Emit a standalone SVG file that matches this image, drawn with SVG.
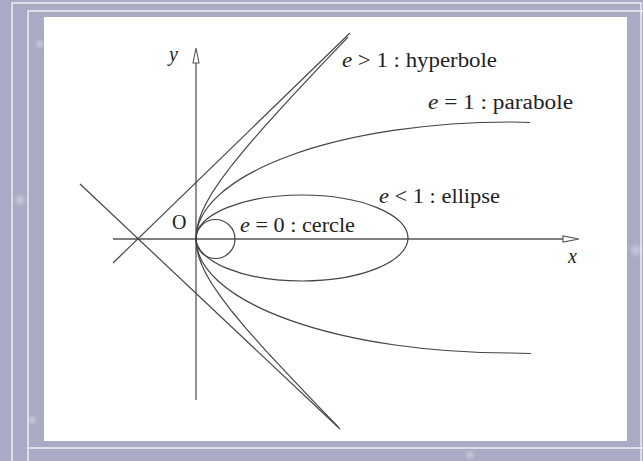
<svg xmlns="http://www.w3.org/2000/svg" width="643" height="461" viewBox="0 0 643 461">
  <defs>
    <style>
      .frame { fill: none; stroke: #eeeef4; stroke-width: 1.5; }
      .axis { fill: none; stroke: #555; stroke-width: 1.3; }
      .curve { fill: none; stroke: #444; stroke-width: 1.2; }
      .arrow { fill: #fff; stroke: #555; stroke-width: 1.1; }
      .lbl { font-family: "Liberation Serif", "Times New Roman", serif; font-size: 20px; fill: #222; }
      .it { font-style: italic; }
    </style>
    <radialGradient id="star" cx="0.5" cy="0.5" r="0.5">
      <stop offset="0" stop-color="#ffffff" stop-opacity="0.35"/>
      <stop offset="1" stop-color="#ffffff" stop-opacity="0"/>
    </radialGradient>
  </defs>

  <g id="background">
    <rect x="0" y="0" width="643" height="461" fill="#a9abc5"/>
    <circle cx="40" cy="44" r="6" fill="url(#star)"/>
    <circle cx="20" cy="200" r="7" fill="url(#star)"/>
    <circle cx="636" cy="250" r="8" fill="url(#star)"/>
    <circle cx="470" cy="455" r="6" fill="url(#star)"/>
    <circle cx="32" cy="420" r="6" fill="url(#star)"/>
  </g>

  <g id="frame">
    <polyline class="frame" points="12,461 12,3 641,3 641,461"/>
    <polyline class="frame" points="28,461 28,11 643,11"/>
    <line class="frame" x1="28" y1="448" x2="643" y2="448"/>
  </g>

  <g id="panel">
    <rect x="44" y="17" width="583" height="424" fill="#ffffff"/>
  </g>

  <g id="connectors">
    <!-- axes -->
    <line id="x-axis" class="axis" x1="113" y1="239" x2="564" y2="239"/>
    <path class="arrow" d="M579,239 L563,236 L563,242 Z"/>
    <line id="y-axis" class="axis" x1="196" y1="400" x2="196" y2="63"/>
    <path class="arrow" d="M196,48 L193,63 L199,63 Z"/>
    <!-- asymptotes -->
    <line class="curve" x1="113" y1="263" x2="350" y2="33"/>
    <line class="curve" x1="80" y1="184" x2="340" y2="429"/>
    <!-- circle e=0 -->
    <circle class="curve" cx="215.5" cy="239" r="19.5"/>
    <!-- ellipse e<1 -->
    <ellipse class="curve" cx="302" cy="238" rx="106" ry="43"/>
    <!-- parabola e=1 -->
    <path class="curve" d="M196,239 A315,117 0 0,1 511,122 L530,122.5"/>
    <path class="curve" d="M196,239 A315,114 0 0,0 511,353 L531,353.5"/>
    <!-- hyperbola e>1 -->
    <polyline class="curve" points="196,239 197,228.2 199,220.1 202,211.9 206,203.5 212,193 221,179.6 232,165 246,147.9 266,124.9 291,97.4 321,65.4 348,37.2"/>
    <polyline class="curve" points="196,239 197,249.6 199,257.5 202,265.5 206,273.8 212,284 221,297.2 232,311.5 246,328.3 266,350.8 291,377.7 316,403.9 338,426.6"/>
  </g>

  <g id="labels">
    <text class="lbl it" x="169" y="61">y</text>
    <text class="lbl it" x="568" y="263" font-size="18">x</text>
    <text class="lbl" x="172" y="229">O</text>
    <text class="lbl" x="342" y="67" textLength="155" lengthAdjust="spacingAndGlyphs"><tspan class="it">e</tspan> &gt; 1 : hyperbole</text>
    <text class="lbl" x="428" y="109" textLength="145" lengthAdjust="spacingAndGlyphs"><tspan class="it">e</tspan> = 1 : parabole</text>
    <text class="lbl" x="379" y="203" textLength="121" lengthAdjust="spacingAndGlyphs"><tspan class="it">e</tspan> &lt; 1 : ellipse</text>
    <text class="lbl" x="240" y="232" textLength="115" lengthAdjust="spacingAndGlyphs"><tspan class="it">e</tspan> = 0 : cercle</text>
  </g>
</svg>
